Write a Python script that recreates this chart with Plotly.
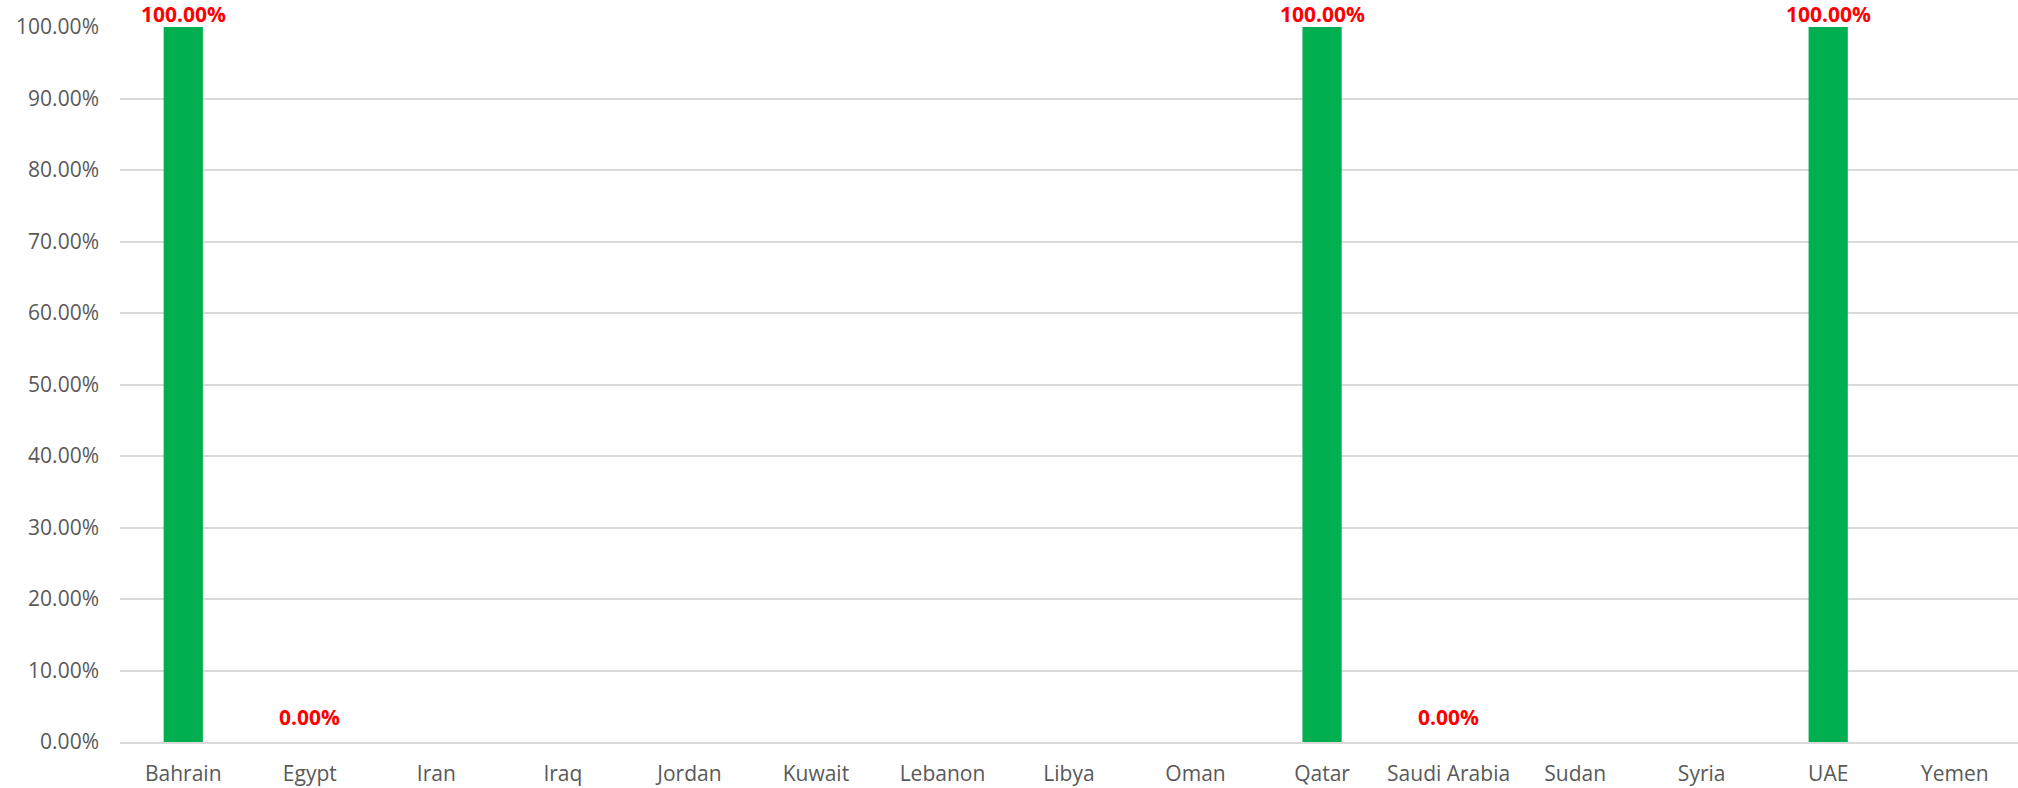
import plotly.graph_objects as go

countries = ["Bahrain", "Egypt", "Iran", "Iraq", "Jordan", "Kuwait", "Lebanon", "Libya",
             "Oman", "Qatar", "Saudi Arabia", "Sudan", "Syria", "UAE", "Yemen"]
values = [1.0, 0.0, None, None, None, None, None, None, None, 1.0, 0.0, None, None, 1.0, None]

FONT = "Open Sans"
FS = 21
fig = go.Figure()
fig.add_trace(go.Bar(
    x=countries, y=values, marker=dict(color="#00B050", line=dict(width=0)),
    hoverinfo="x+y",
))

for c, v in zip(countries, values):
    if v is None:
        continue
    fig.add_annotation(
        x=c, y=v, xref="x", yref="y", text=f"<b>{v*100:.2f}%</b>",
        showarrow=False, yanchor="bottom", yshift=(-3 if v > 0 else 9),
        font=dict(family=FONT, size=FS, color="#FF0000"),
    )

fig.update_layout(
    width=2018, height=788,
    margin=dict(l=120, r=0, t=27, b=46),
    paper_bgcolor="white", plot_bgcolor="white",
    bargap=0.69, showlegend=False,
    font=dict(family=FONT, size=FS, color="#595959"),
)
fig.update_xaxes(
    type="category", showgrid=False, showline=True, linecolor="#D9D9D9", linewidth=2,
    ticks="", ticklabelstandoff=12, tickfont=dict(family=FONT, size=FS, color="#595959"),
)
fig.update_yaxes(
    range=[0, 1], tickvals=[i / 10 for i in range(11)],
    ticktext=[f"{i*10:.2f}%" for i in range(11)],
    showgrid=True, gridcolor="#D9D9D9", gridwidth=2, zeroline=False,
    ticks="", ticklabelstandoff=20, tickfont=dict(family=FONT, size=FS, color="#595959"),
)

fig.write_html("out.html")
